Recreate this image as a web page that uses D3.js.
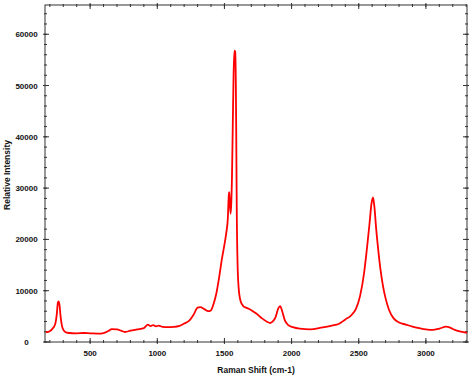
<!DOCTYPE html>
<html>
<head>
<meta charset="utf-8">
<script src="https://cdn.jsdelivr.net/npm/d3@7"></script>
<style>
  body { margin: 0; background: #fff; }
  text { font-family: "Liberation Sans", Arial, sans-serif; font-weight: bold; }
</style>
</head>
<body>
<div id="chart"></div>
<script>
// Raman spectrum, values
var shift = [170, 200, 220, 240, 252, 260, 265, 272, 280, 290, 305, 330, 400, 450, 500, 560, 600, 640, 660, 700,
  730, 760, 800, 850, 900, 930, 950, 970, 990, 1010, 1040, 1080, 1120, 1160, 1200, 1240, 1270, 1300, 1320, 1350,
  1380, 1400, 1420, 1440, 1460, 1480, 1500, 1515, 1525, 1532, 1536, 1540, 1546, 1550, 1556, 1562, 1568, 1574, 1580, 1585,
  1588, 1592, 1598, 1606, 1620, 1640, 1670, 1700, 1740, 1780, 1820, 1840, 1860, 1880, 1900, 1915, 1930, 1950, 1975, 2010,
  2060, 2140, 2220, 2300, 2350, 2400, 2440, 2480, 2510, 2540, 2560, 2580, 2595, 2606, 2616, 2630, 2645, 2660, 2680, 2700,
  2725, 2760, 2800, 2850, 2900, 2950, 3000, 3050, 3100, 3150, 3180, 3220, 3260, 3306];
var intensity = [1900, 2100, 2600, 3500, 5500, 7700, 7900, 7200, 5000, 3200, 2200, 1800, 1700, 1750, 1700, 1650, 1750, 2200, 2500, 2450,
  2200, 1950, 2200, 2450, 2700, 3400, 3100, 3300, 3050, 3200, 2950, 2900, 2950, 3100, 3600, 4200, 5300, 6700, 6800, 6400,
  6000, 6200, 7500, 9500, 12500, 16000, 19000, 21500, 24000, 28500, 29200, 27000, 25000, 26500, 32000, 42000, 52000, 56800, 56600, 50000,
  40000, 25000, 15000, 10500, 8000, 7000, 6600, 6200, 5500, 4600, 3900, 3700, 4000, 4800, 6500, 7000, 6000, 4200, 3300, 2900,
  2600, 2450, 2800, 3200, 3500, 4400, 5100, 6500, 9000, 13500, 18000, 23000, 27000, 28200, 26500, 22000, 18000, 14500, 11000, 8500,
  6300, 4600, 3800, 3400, 3000, 2700, 2450, 2350, 2600, 3000, 2800, 2300, 2000, 1800];

var xTicks = [500, 1000, 1500, 2000, 2500, 3000];
var yTicks = [0, 10000, 20000, 30000, 40000, 50000, 60000];

var margin = {top: 5, right: 9, bottom: 37, left: 45},
    width = 476 - margin.left - margin.right,
    height = 379 - margin.top - margin.bottom;

var svg = d3.select("#chart").append("svg")
    .attr("width", 476)
    .attr("height", 379)
  .append("g")
    .attr("transform", "translate(" + margin.left + "," + margin.top + ")");

var x = d3.scaleLinear().domain([164, 3306]).range([0, width]);
var y = d3.scaleLinear().domain([0, 65700]).range([height, 0]);

var xMinor = d3.range(200, 3301, 100);
var yMinor = d3.range(0, 65001, 2000);

var axisCol = "#333";

// frame
svg.append("rect")
    .attr("width", width).attr("height", height)
    .attr("fill", "none").attr("stroke", axisCol).attr("stroke-width", 1);

// ticks on all four sides (inward with a small outward stub)
function tickLines(vals, len, out) {
  var g = svg.append("g").attr("stroke", axisCol).attr("stroke-width", 1);
  g.selectAll(".bx").data(vals).enter().append("line")
    .attr("x1", function(d) { return x(d); }).attr("x2", function(d) { return x(d); })
    .attr("y1", height + out).attr("y2", height - len);
  g.selectAll(".tx").data(vals).enter().append("line")
    .attr("x1", function(d) { return x(d); }).attr("x2", function(d) { return x(d); })
    .attr("y1", -out).attr("y2", len);
}
function tickLinesY(vals, len, out) {
  var g = svg.append("g").attr("stroke", axisCol).attr("stroke-width", 1);
  g.selectAll(".ly").data(vals).enter().append("line")
    .attr("y1", function(d) { return y(d); }).attr("y2", function(d) { return y(d); })
    .attr("x1", -out).attr("x2", len);
  g.selectAll(".ry").data(vals).enter().append("line")
    .attr("y1", function(d) { return y(d); }).attr("y2", function(d) { return y(d); })
    .attr("x1", width + out).attr("x2", width - len);
}
tickLines(xMinor, 2, 1);
tickLines(xTicks, 4, 2);
tickLinesY(yMinor, 2, 1);
tickLinesY(yTicks, 4, 2);

// tick labels
svg.selectAll(".xl").data(xTicks).enter().append("text")
    .attr("x", function(d) { return x(d); })
    .attr("y", height + 14)
    .attr("text-anchor", "middle")
    .attr("font-size", 8)
    .attr("fill", "#111")
    .text(function(d) { return d; });

svg.selectAll(".yl").data(yTicks).enter().append("text")
    .attr("x", -18.5)
    .attr("y", function(d) { return y(d) + 3; })
    .attr("text-anchor", "middle")
    .attr("font-size", 8)
    .attr("fill", "#111")
    .text(function(d) { return d; });

// axis titles
svg.append("text")
    .attr("x", 256 - margin.left)
    .attr("y", height + 31)
    .attr("text-anchor", "middle")
    .attr("font-size", 8.5)
    .attr("fill", "#111")
    .text("Raman Shift (cm-1)");

svg.append("text")
    .attr("transform", "translate(" + (10 - margin.left) + "," + (175 - margin.top) + ") rotate(-90)")
    .attr("text-anchor", "middle")
    .attr("font-size", 8.5)
    .attr("fill", "#111")
    .text("Relative Intensity");

// spectrum
var line = d3.line()
    .x(function(d, i) { return x(shift[i]); })
    .y(function(d) { return y(d); })
    .curve(d3.curveMonotoneX);

svg.append("path")
    .datum(intensity)
    .attr("fill", "none")
    .attr("stroke", "#f00")
    .attr("stroke-width", 1.8)
    .attr("stroke-linejoin", "round")
    .attr("d", line);
</script>
</body>
</html>
